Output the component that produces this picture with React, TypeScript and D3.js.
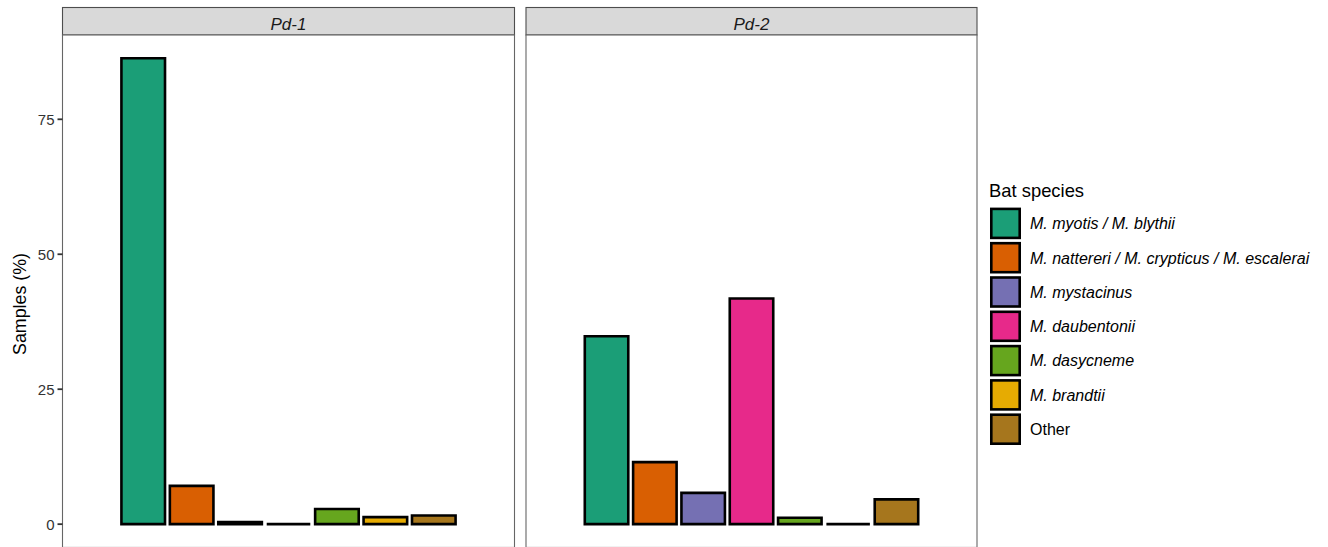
import React from "react";
import * as d3 from "d3";

const species = [
  "M. myotis / M. blythii",
  "M. nattereri / M. crypticus / M. escalerai",
  "M. mystacinus",
  "M. daubentonii",
  "M. dasycneme",
  "M. brandtii",
  "Other",
];
const italicLabel = [true, true, true, true, true, true, false];
const colors = ["#1B9E77", "#D95F02", "#7570B3", "#E7298A", "#66A61E", "#E6AB02", "#A6761D"];

const facets = ["Pd-1", "Pd-2"];
const pd1Values = [86.3, 7.1, 0.4, 0, 2.8, 1.3, 1.6];
const pd2Values = [34.8, 11.5, 5.8, 41.8, 1.2, 0, 4.6];
const facetValues = [pd1Values, pd2Values];

const yTicks = [0, 25, 50, 75];

const W = 1328;
const H = 547;
const panelTop = 35;
const stripTop = 7.5;
const panels = [
  { x0: 62.5, x1: 514.5 },
  { x0: 526, x1: 977 },
];

const maxVal = d3.max([...pd1Values, ...pd2Values]) as number;
const y = d3
  .scaleLinear()
  .domain([-0.05 * maxVal, 1.05 * maxVal])
  .range([panelTop + 94.9 * 5.4, panelTop]);

const font = "'Liberation Sans', Arial, Helvetica, sans-serif";

// bar outline as a path so zero-height bars still show as a line
function barPath(x: number, w: number, y0: number, y1: number) {
  const p = d3.path();
  p.moveTo(x, y0);
  p.lineTo(x + w, y0);
  p.lineTo(x + w, y1);
  p.lineTo(x, y1);
  p.closePath();
  return p.toString();
}

export default function App() {
  return (
    <svg
      width={W}
      height={H}
      style={{ position: "absolute", left: 0, top: 0, background: "#fff" }}
      fontFamily={font}
    >
      {panels.map((p, pi) => {
        const xOuter = d3.scaleLinear().domain([0.4, 1.6]).range([p.x0, p.x1]);
        const band = d3
          .scaleBand<string>()
          .domain(species)
          .range([xOuter(0.55), xOuter(1.45)])
          .paddingInner(0.1)
          .paddingOuter(0.05);
        const vals = facetValues[pi];
        const bottom = y.range()[0];
        return (
          <g key={facets[pi]}>
            {/* strip */}
            <rect
              x={p.x0}
              y={stripTop}
              width={p.x1 - p.x0}
              height={panelTop - stripTop}
              fill="#D9D9D9"
              stroke="#4d4d4d"
              strokeWidth={1.1}
            />
            <text
              x={(p.x0 + p.x1) / 2}
              y={29.5}
              textAnchor="middle"
              fontSize={17}
              fontStyle="italic"
              fill="#1a1a1a"
            >
              {facets[pi]}
            </text>
            {/* panel */}
            <rect x={p.x0} y={panelTop} width={p.x1 - p.x0} height={bottom - panelTop} fill="#fff" />
            {species.map((s, i) => {
              const v = vals[i];
              return (
                <path
                  key={s}
                  d={barPath(band(s) as number, band.bandwidth(), y(0), y(v))}
                  fill={colors[i]}
                  stroke="#000"
                  strokeWidth={2.6}
                />
              );
            })}
            <rect
              x={p.x0}
              y={panelTop}
              width={p.x1 - p.x0}
              height={bottom - panelTop}
              fill="none"
              stroke="#666"
              strokeWidth={1.1}
            />
          </g>
        );
      })}

      {/* y axis */}
      {yTicks.map((t) => (
        <g key={t} transform={`translate(${panels[0].x0},${y(t)})`}>
          <line x1={-5} x2={0} stroke="#333" strokeWidth={1.8} />
          <text x={-8} dy="0.36em" textAnchor="end" fontSize={15} fill="#333">
            {t}
          </text>
        </g>
      ))}
      <text
        transform={`translate(25.5,304) rotate(-90)`}
        textAnchor="middle"
        fontSize={17.8}
        fill="#000"
      >
        Samples (%)
      </text>

      {/* legend */}
      <text x={989} y={196.5} fontSize={18.4} fill="#000">
        Bat species
      </text>
      {species.map((s, i) => {
        const ky = 207.6 + i * 34.3;
        return (
          <g key={s}>
            <rect
              x={991.3}
              y={ky + 1.3}
              width={28.4}
              height={29}
              fill={colors[i]}
              stroke="#000"
              strokeWidth={2.6}
            />
            <text
              x={1030}
              y={ky + 16}
              dy="0.35em"
              fontSize={16}
              fontStyle={italicLabel[i] ? "italic" : "normal"}
              fill="#000"
            >
              {s}
            </text>
          </g>
        );
      })}
    </svg>
  );
}
